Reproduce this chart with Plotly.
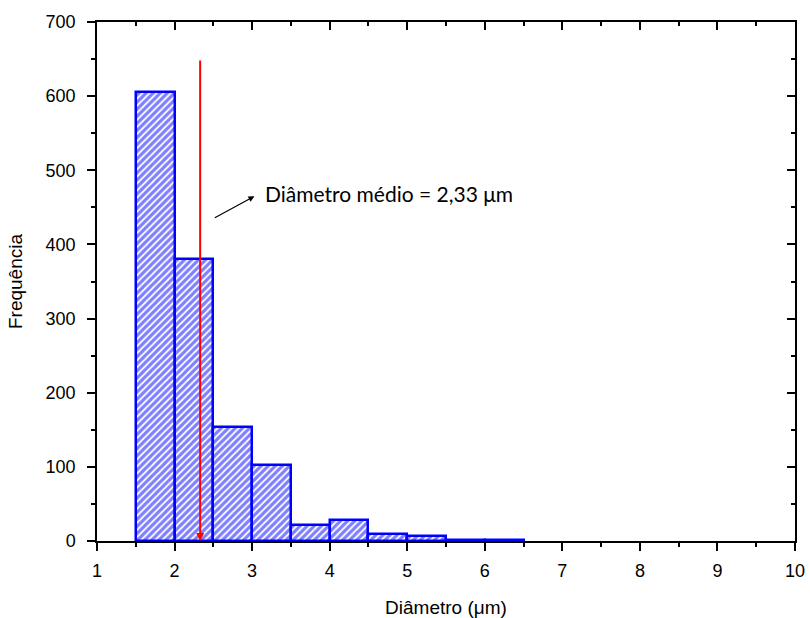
import plotly.graph_objects as go

# Histogram of particle diameters (bin width 0.5 µm)
bin_left = [1.5, 2.0, 2.5, 3.0, 3.5, 4.0, 4.5, 5.0, 5.5, 6.0]
counts = [606, 381, 154, 102, 21, 28, 9, 7, 2, 2]
bin_width = 0.5
mean_diameter = 2.33
mean_line_top = 650

x_ticks = [1, 2, 3, 4, 5, 6, 7, 8, 9, 10]
y_ticks = [0, 100, 200, 300, 400, 500, 600, 700]

centers = [b + bin_width / 2 for b in bin_left]

fig = go.Figure()
fig.add_trace(go.Bar(
    x=centers, y=counts, width=bin_width,
    marker=dict(
        color="white",
        line=dict(color="#0000ff", width=2.5),
        pattern=dict(shape="/", fgcolor="#0000ff", bgcolor="white",
                     size=5, solidity=0.65, fillmode="overlay"),
    ),
    showlegend=False,
))
# invisible trace to activate the mirrored (inward-tick) axes
fig.add_trace(go.Scatter(x=[None], y=[None], xaxis="x2", yaxis="y2",
                         showlegend=False, hoverinfo="skip"))

sans = "Liberation Sans"
tick_font = dict(family=sans, size=18, color="black")
title_font = dict(family=sans, size=19, color="black")

common = dict(showgrid=False, zeroline=False, showline=True, linecolor="black",
              linewidth=1.5, tickcolor="black", tickwidth=1.5, automargin=False)

fig.update_layout(
    width=810, height=618,
    margin=dict(l=97, r=15, t=22, b=77),
    plot_bgcolor="white", paper_bgcolor="white",
    bargap=0,
    font=dict(family=sans),
    xaxis=dict(range=[1, 10], tickvals=x_ticks, ticks="outside", ticklen=8,
               ticklabelstandoff=5,
               minor=dict(dtick=0.5, ticks="outside", ticklen=4, tickcolor="black", tickwidth=1.5),
               tickfont=tick_font,
               title=dict(text="Diâmetro (μm)", font=title_font, standoff=20),
               **common),
    yaxis=dict(range=[0, 700], tickvals=y_ticks, ticks="outside", ticklen=8,
               ticklabelstandoff=8,
               minor=dict(dtick=50, ticks="outside", ticklen=4, tickcolor="black", tickwidth=1.5),
               tickfont=tick_font,
               title=dict(text="Frequência", font=title_font, standoff=18),
               **common),
    xaxis2=dict(range=[1, 10], overlaying="x", side="top", tickvals=x_ticks,
                ticks="inside", ticklen=8, showticklabels=False,
                minor=dict(dtick=0.5, ticks="inside", ticklen=4, tickcolor="black", tickwidth=1.5),
                **common),
    yaxis2=dict(range=[0, 700], overlaying="y", side="right", tickvals=y_ticks,
                ticks="inside", ticklen=8, showticklabels=False,
                minor=dict(dtick=50, ticks="inside", ticklen=4, tickcolor="black", tickwidth=1.5),
                **common),
)

# Red vertical arrow marking the mean diameter
fig.add_annotation(x=mean_diameter, y=0, ax=mean_diameter, ay=mean_line_top,
                   xref="x", yref="y", axref="x", ayref="y",
                   showarrow=True, arrowhead=2, arrowsize=0.8, arrowwidth=2,
                   arrowcolor="red", text="")

# Label with black pointer arrow
fig.add_annotation(x=3.03, y=465, ax=2.5, ay=435,
                   xref="x", yref="y", axref="x", ayref="y",
                   showarrow=True, arrowhead=2, arrowsize=1, arrowwidth=1.2,
                   arrowcolor="black", text="")
fig.add_annotation(x=3.14, y=469, xref="x", yref="y", xanchor="left", yanchor="middle",
                   showarrow=False, text=f"Diâmetro médio = {mean_diameter:.2f}".replace(".", ",") + " μm",
                   font=dict(family="Lato", size=21, color="black"))

fig.write_html("out.html")
